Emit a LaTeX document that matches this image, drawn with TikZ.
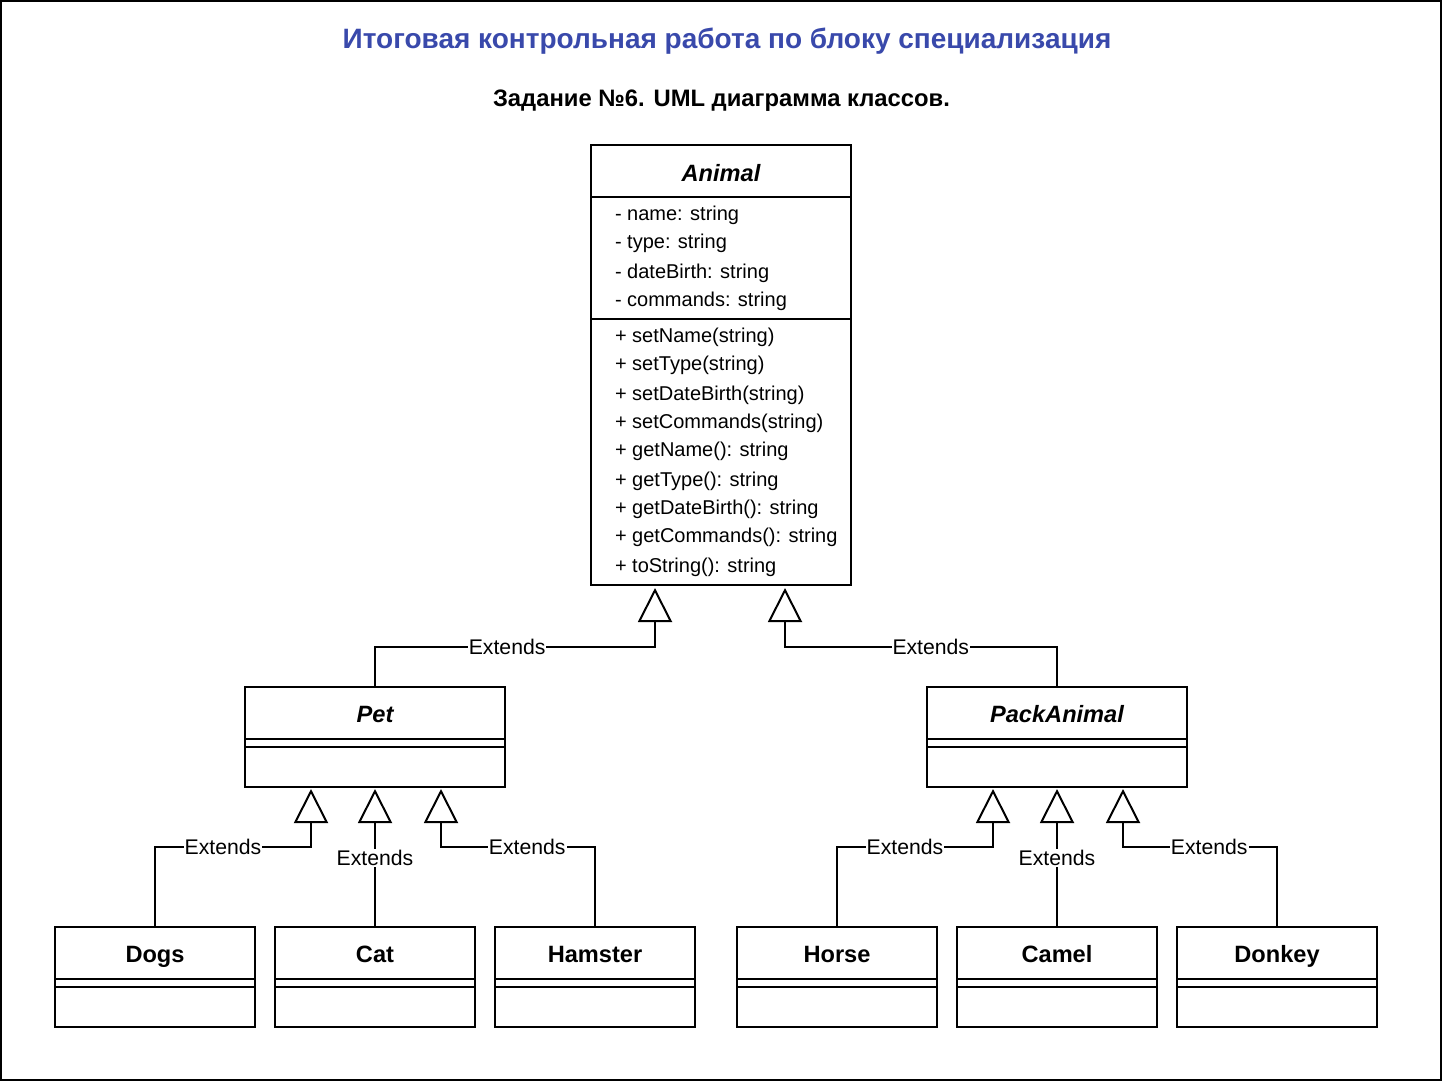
\documentclass[tikz,border=0pt]{standalone}
\usepackage{fontspec}
\setmainfont{Liberation Sans}
\usetikzlibrary{arrows.meta,calc}
\definecolor{titleblue}{RGB}{57,73,171}
\begin{document}
\begin{tikzpicture}[x=1pt,y=-1pt,line width=2pt,
  box/.style={draw,line width=2pt,anchor=north west,inner sep=0pt,outer sep=0pt},
  cname/.style={font=\fontsize{23.6}{27}\selectfont\bfseries,inner sep=0pt,anchor=base},
  attr/.style={font=\fontsize{20}{24}\selectfont,anchor=base west,inner sep=0pt},
  lbl/.style={font=\fontsize{21.2}{24}\selectfont,fill=white,inner sep=1pt},
  ext/.style={-{Triangle[open,length=34pt,width=34pt]},line width=2pt},
]
\useasboundingbox (0,0) rectangle (1444,1082);
\draw[line width=2pt] (1,1) rectangle (1441,1080);

\node[font=\fontsize{28}{32}\selectfont\bfseries,text=titleblue,anchor=base,inner sep=0pt] (title) at (727,48) {Итоговая контрольная работа по блоку специализация};
\node[font=\fontsize{23.8}{27}\selectfont\bfseries,anchor=base,inner sep=0pt] (subtitle) at (721.5,106) {Задание №6. UML диаграмма классов.};

% Animal
\node[box,minimum width=260,minimum height=440] (animal) at (591,145) {};
\node[cname,font=\fontsize{23.6}{27}\selectfont\bfseries\itshape] at ($(animal.north)+(0,36)$) {Animal};
\draw ($(animal.north west)+(0,52)$) -- ($(animal.north east)+(0,52)$);
\draw ($(animal.north west)+(0,174)$) -- ($(animal.north east)+(0,174)$);
\foreach \t/\y in {{- name: string}/220,{- type: string}/248,{- dateBirth: string}/278,{- commands: string}/306,
  {+ setName(string)}/342,{+ setType(string)}/370,{+ setDateBirth(string)}/400,{+ setCommands(string)}/428,
  {+ getName(): string}/456,{+ getType(): string}/486,{+ getDateBirth(): string}/514,{+ getCommands(): string}/542,
  {+ toString(): string}/572}
  \node[attr] at (614,\y) {\t};

% Pet and PackAnimal
\foreach \n/\t/\x in {pet/Pet/245,pack/PackAnimal/927}{
  \node[box,minimum width=260,minimum height=100] (\n) at (\x,687) {};
  \node[cname,font=\fontsize{23.6}{27}\selectfont\bfseries\itshape] at ($(\n.north)+(0,35)$) {\t};
  \draw ($(\n.north west)+(0,52)$) -- ($(\n.north east)+(0,52)$);
  \draw ($(\n.north west)+(0,60)$) -- ($(\n.north east)+(0,60)$);
}

% leaf classes
\foreach \n/\t/\x in {dogs/Dogs/55,cat/Cat/275,hamster/Hamster/495,horse/Horse/737,camel/Camel/957,donkey/Donkey/1177}{
  \node[box,minimum width=200,minimum height=100] (\n) at (\x,927) {};
  \node[cname] at ($(\n.north)+(0,35)$) {\t};
  \draw ($(\n.north west)+(0,52)$) -- ($(\n.north east)+(0,52)$);
  \draw ($(\n.north west)+(0,60)$) -- ($(\n.north east)+(0,60)$);
}

% connectors
\draw[ext] (pet.north) -- ++(0,-40) -| node[pos=0.236,lbl]{Extends} ($(animal.south west)+(64,3)$);
\draw[ext] (pack.north) -- ++(0,-40) -| node[pos=0.232,lbl]{Extends} ($(animal.south west)+(194,3)$);

\draw[ext] (dogs.north) -- ++(0,-80) -| node[pos=0.218,lbl]{Extends} ($(pet.south west)+(66,2)$);
\draw[ext] (cat.north) -- node[pos=0.5,lbl]{Extends} ($(pet.south)+(0,2)$);
\draw[ext] (hamster.north) -- ++(0,-80) -| node[pos=0.22,lbl]{Extends} ($(pet.south west)+(196,2)$);

\draw[ext] (horse.north) -- ++(0,-80) -| node[pos=0.218,lbl]{Extends} ($(pack.south west)+(66,2)$);
\draw[ext] (camel.north) -- node[pos=0.5,lbl]{Extends} ($(pack.south)+(0,2)$);
\draw[ext] (donkey.north) -- ++(0,-80) -| node[pos=0.22,lbl]{Extends} ($(pack.south west)+(196,2)$);
\end{tikzpicture}
\end{document}
